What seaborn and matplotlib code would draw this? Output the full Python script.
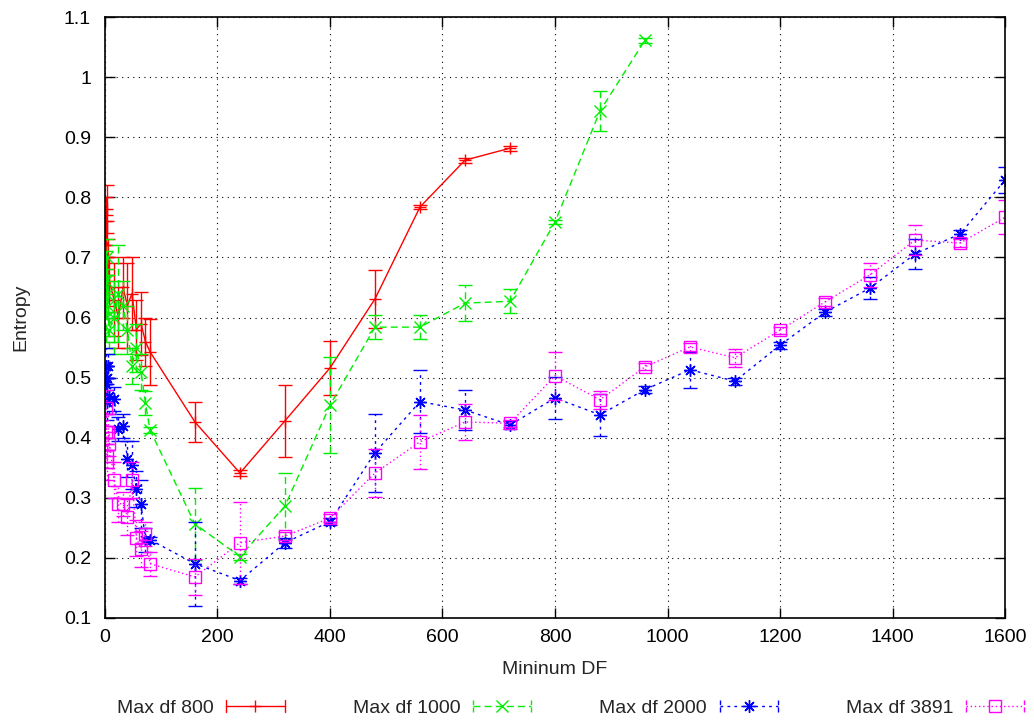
import matplotlib
matplotlib.use('Agg')
import matplotlib.pyplot as plt
from matplotlib.lines import Line2D
from matplotlib.legend_handler import HandlerLine2D
import seaborn as sns
import pandas as pd

sns.set_theme(style="ticks")
plt.rcParams['font.family'] = ['Liberation Sans', 'DejaVu Sans']

# minimum DF values on the x axis
dense_x = [1, 2, 3, 4, 6, 8, 16, 24, 32, 40, 48, 56, 64, 72, 80]
far_x = [160, 240, 320, 400, 480, 560, 640, 720, 800, 880, 960, 1040, 1120,
         1200, 1280, 1360, 1440, 1520, 1600]

x_800 = dense_x + far_x[:8]
y_800 = [0.76, 0.72, 0.78, 0.70, 0.68, 0.66, 0.63, 0.60, 0.65, 0.62, 0.64, 0.58, 0.59, 0.56, 0.543,
         0.426, 0.341, 0.428, 0.516, 0.631, 0.784, 0.862, 0.882]
e_800 = [0.04, 0.05, 0.04, 0.06, 0.05, 0.04, 0.06, 0.05, 0.05, 0.07, 0.06, 0.05, 0.053, 0.04, 0.055,
         0.033, 0.005, 0.06, 0.045, 0.048, 0.004, 0.004, 0.004]

x_1000 = dense_x + far_x[:11]
y_1000 = [0.60, 0.66, 0.70, 0.64, 0.62, 0.58, 0.60, 0.64, 0.62, 0.58, 0.52, 0.55, 0.51, 0.458, 0.413,
          0.256, 0.202, 0.286, 0.454, 0.584, 0.584, 0.624, 0.627, 0.759, 0.944, 1.062]
e_1000 = [0.04, 0.05, 0.03, 0.04, 0.05, 0.03, 0.06, 0.08, 0.04, 0.04, 0.03, 0.04, 0.03, 0.02, 0.005,
          0.06, 0.005, 0.055, 0.08, 0.02, 0.02, 0.03, 0.02, 0.004, 0.033, 0.004]

x_2000 = dense_x + far_x
y_2000 = [0.52, 0.49, 0.50, 0.46, 0.52, 0.47, 0.465, 0.415, 0.42, 0.365, 0.355, 0.315, 0.29, 0.23, 0.23,
          0.19, 0.162, 0.225, 0.26, 0.375, 0.46, 0.446, 0.421, 0.466, 0.438, 0.48, 0.513, 0.494,
          0.554, 0.609, 0.649, 0.706, 0.739, 0.829]
e_2000 = [0.03, 0.03, 0.02, 0.03, 0.02, 0.03, 0.02, 0.02, 0.02, 0.03, 0.04, 0.03, 0.04, 0.02, 0.005,
          0.07, 0.005, 0.008, 0.006, 0.065, 0.052, 0.033, 0.006, 0.035, 0.035, 0.006, 0.03, 0.006,
          0.006, 0.006, 0.018, 0.025, 0.006, 0.022]

x_3891 = dense_x + far_x
y_3891 = [0.45, 0.41, 0.37, 0.36, 0.41, 0.39, 0.33, 0.29, 0.29, 0.268, 0.33, 0.233, 0.215, 0.24, 0.19,
          0.168, 0.225, 0.236, 0.266, 0.341, 0.393, 0.426, 0.424, 0.503, 0.463, 0.518, 0.551, 0.533,
          0.579, 0.626, 0.671, 0.729, 0.724, 0.767]
e_3891 = [0.03, 0.03, 0.02, 0.03, 0.03, 0.02, 0.03, 0.03, 0.02, 0.03, 0.03, 0.03, 0.03, 0.02, 0.02,
          0.03, 0.068, 0.006, 0.006, 0.04, 0.045, 0.03, 0.006, 0.04, 0.015, 0.006, 0.006, 0.015,
          0.006, 0.006, 0.02, 0.025, 0.006, 0.028]

series = [
    ("Max df 800", x_800, y_800, e_800, "#ff0000", "+", "-"),
    ("Max df 1000", x_1000, y_1000, e_1000, "#00ee00", "x", (0, (5, 3))),
    ("Max df 2000", x_2000, y_2000, e_2000, "#0000ff", (8, 2, 0), (0, (2, 3))),
    ("Max df 3891", x_3891, y_3891, e_3891, "#ff00ff", "s", (0, (1, 2))),
]


class CapHandler(HandlerLine2D):
    # gnuplot style key sample: line with error bar caps at both ends
    def create_artists(self, legend, orig_handle, xdescent, ydescent, width, height, fontsize, trans):
        arts = super().create_artists(legend, orig_handle, xdescent, ydescent, width, height, fontsize, trans)
        yc = height / 2 - ydescent
        h = height * 0.45
        for xc in (-xdescent, width - xdescent):
            cap = Line2D([xc, xc], [yc - h, yc + h], color=orig_handle.get_color(),
                         linewidth=1, linestyle=orig_handle.get_linestyle())
            cap.set_transform(trans)
            arts.append(cap)
        return arts


fig = plt.figure(figsize=(10.34, 7.2), dpi=100)
ax = fig.add_axes([0.1015, 0.142, 0.8705, 0.834])

for label, xs, ys, es, color, marker, ls in series:
    df = pd.DataFrame({"x": xs, "y": ys})
    sns.lineplot(data=df, x="x", y="y", ax=ax, color=color, linewidth=1,
                 marker=marker, markersize=9, markerfacecolor="none",
                 markeredgecolor=color, markeredgewidth=1, linestyle=ls, label=label)
    eb = ax.errorbar(xs, ys, yerr=es, fmt="none", ecolor=color, elinewidth=1,
                     capsize=5, capthick=1)
    eb[2][0].set_linestyle(ls)

handles, labels = ax.get_legend_handles_labels()
ax.get_legend().remove()
fig.legend(handles, labels, loc="center left", bbox_to_anchor=(0.113, 0.0165), ncol=4,
           frameon=False, markerfirst=False, fontsize=14, handlelength=3.0,
           handletextpad=0.65, columnspacing=3.5, borderpad=0, borderaxespad=0,
           handler_map={Line2D: CapHandler()})

ax.set_xlim(0, 1600)
ax.set_ylim(0.1, 1.1)
ax.set_xticks(range(0, 1601, 200))
ax.set_yticks([0.1, 0.2, 0.3, 0.4, 0.5, 0.6, 0.7, 0.8, 0.9, 1.0, 1.1])
ax.set_yticklabels(["0.1", "0.2", "0.3", "0.4", "0.5", "0.6", "0.7", "0.8", "0.9", "1", "1.1"])
ax.grid(True, color="black", linestyle=(0, (1, 4)), linewidth=0.8)
ax.tick_params(direction="in", length=7, width=1, top=True, right=True,
               labelsize=14, colors="black")
ax.tick_params(axis="y", pad=10)
ax.tick_params(axis="x", pad=8)
for s in ax.spines.values():
    s.set_color("black")
    s.set_linewidth(1.2)
ax.set_xlabel("Mininum DF", fontsize=14, labelpad=11)
ax.set_ylabel("Entropy", fontsize=14, labelpad=25)

fig.savefig("out.png", dpi=100)
